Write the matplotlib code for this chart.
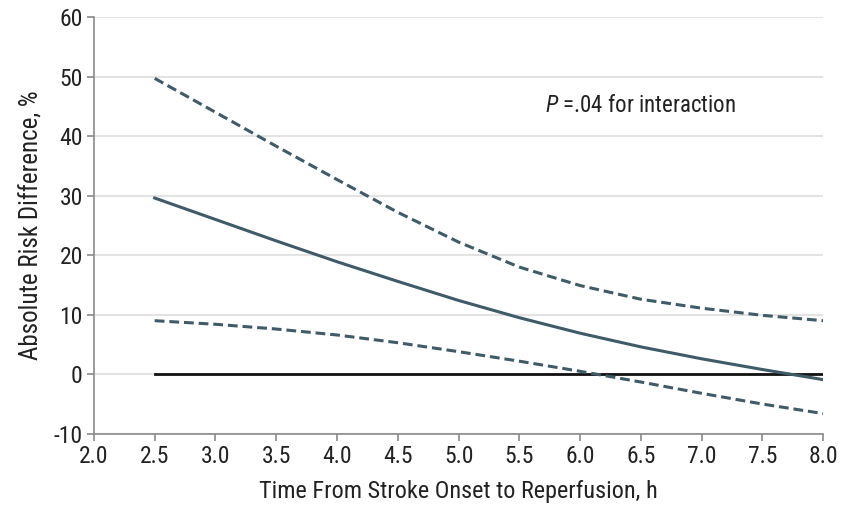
import matplotlib
matplotlib.use("Agg")
import matplotlib.pyplot as plt
from matplotlib import font_manager

# Data
hours = [2.5, 3.0, 3.5, 4.0, 4.5, 5.0, 5.5, 6.0, 6.5, 7.0, 7.5, 8.0]
risk_diff = [29.6, 26.0, 22.4, 18.9, 15.6, 12.4, 9.5, 6.9, 4.6, 2.6, 0.8, -0.9]
upper_ci = [49.7, 44.0, 38.3, 32.7, 27.2, 22.2, 18.0, 14.9, 12.6, 11.1, 9.9, 9.0]
lower_ci = [9.0, 8.4, 7.6, 6.6, 5.3, 3.8, 2.2, 0.5, -1.3, -3.2, -5.0, -6.6]
ref_x = [2.5, 8.0]
ref_y = [0, 0]

x_ticks = [2.0, 2.5, 3.0, 3.5, 4.0, 4.5, 5.0, 5.5, 6.0, 6.5, 7.0, 7.5, 8.0]
y_ticks = [-10, 0, 10, 20, 30, 40, 50, 60]

names = {f.name for f in font_manager.fontManager.ttflist}
fam = "DejaVu Sans"
for cand in ["Roboto Condensed", "Open Sans Condensed", "Liberation Sans Narrow", "Roboto", "Lato"]:
    if cand in names:
        fam = cand
        break
plt.rcParams['font.family'] = [fam, 'DejaVu Sans']
plt.rcParams['mathtext.fontset'] = 'custom'
plt.rcParams['mathtext.it'] = f'{fam}:italic'
plt.rcParams['mathtext.rm'] = fam

fig = plt.figure(figsize=(8.54, 5.08), dpi=100)
ax = fig.add_axes([0.110, 0.146, 0.854, 0.8205])

line_col = '#3f5b67'
for yv in y_ticks:
    ax.axhline(yv, color='#e3e3e3', lw=1.5, zorder=0)
ax.plot(ref_x, ref_y, color='#111111', lw=2.0, zorder=2)
ax.plot(hours, upper_ci, color=line_col, lw=2.2, ls=(0, (3.2, 1.6)), zorder=3)
ax.plot(hours, lower_ci, color=line_col, lw=2.2, ls=(0, (3.2, 1.6)), zorder=3)
ax.plot(hours, risk_diff, color=line_col, lw=2.2, zorder=3)

ax.set_xlim(2.0, 8.0)
ax.set_ylim(-10, 60)
ax.set_xticks(x_ticks)
ax.set_xticklabels([f"{v:.1f}" for v in x_ticks])
ax.set_yticks(y_ticks)
ax.set_yticklabels([str(v) for v in y_ticks])

for s in ['top', 'right']:
    ax.spines[s].set_visible(False)
for s in ['left', 'bottom']:
    ax.spines[s].set_color('#8a8a8a')
    ax.spines[s].set_linewidth(1.2)
ax.tick_params(axis='both', colors='#8a8a8a', length=5, width=1.2, labelsize=17, labelcolor='#222222')
ax.tick_params(axis='x', pad=3)
ax.tick_params(axis='y', pad=3)

ax.set_xlabel("Time From Stroke Onset to Reperfusion, h", fontsize=17.5, color='#222222', labelpad=9)
ax.set_ylabel("Absolute Risk Difference, %", fontsize=18, color='#222222', labelpad=7)

ax.text(5.71, 45.2, r"$\it{P}$ =.04 for interaction", fontsize=16.5, color='#222222',
        ha='left', va='center')

fig.savefig("out.png", dpi=100)
